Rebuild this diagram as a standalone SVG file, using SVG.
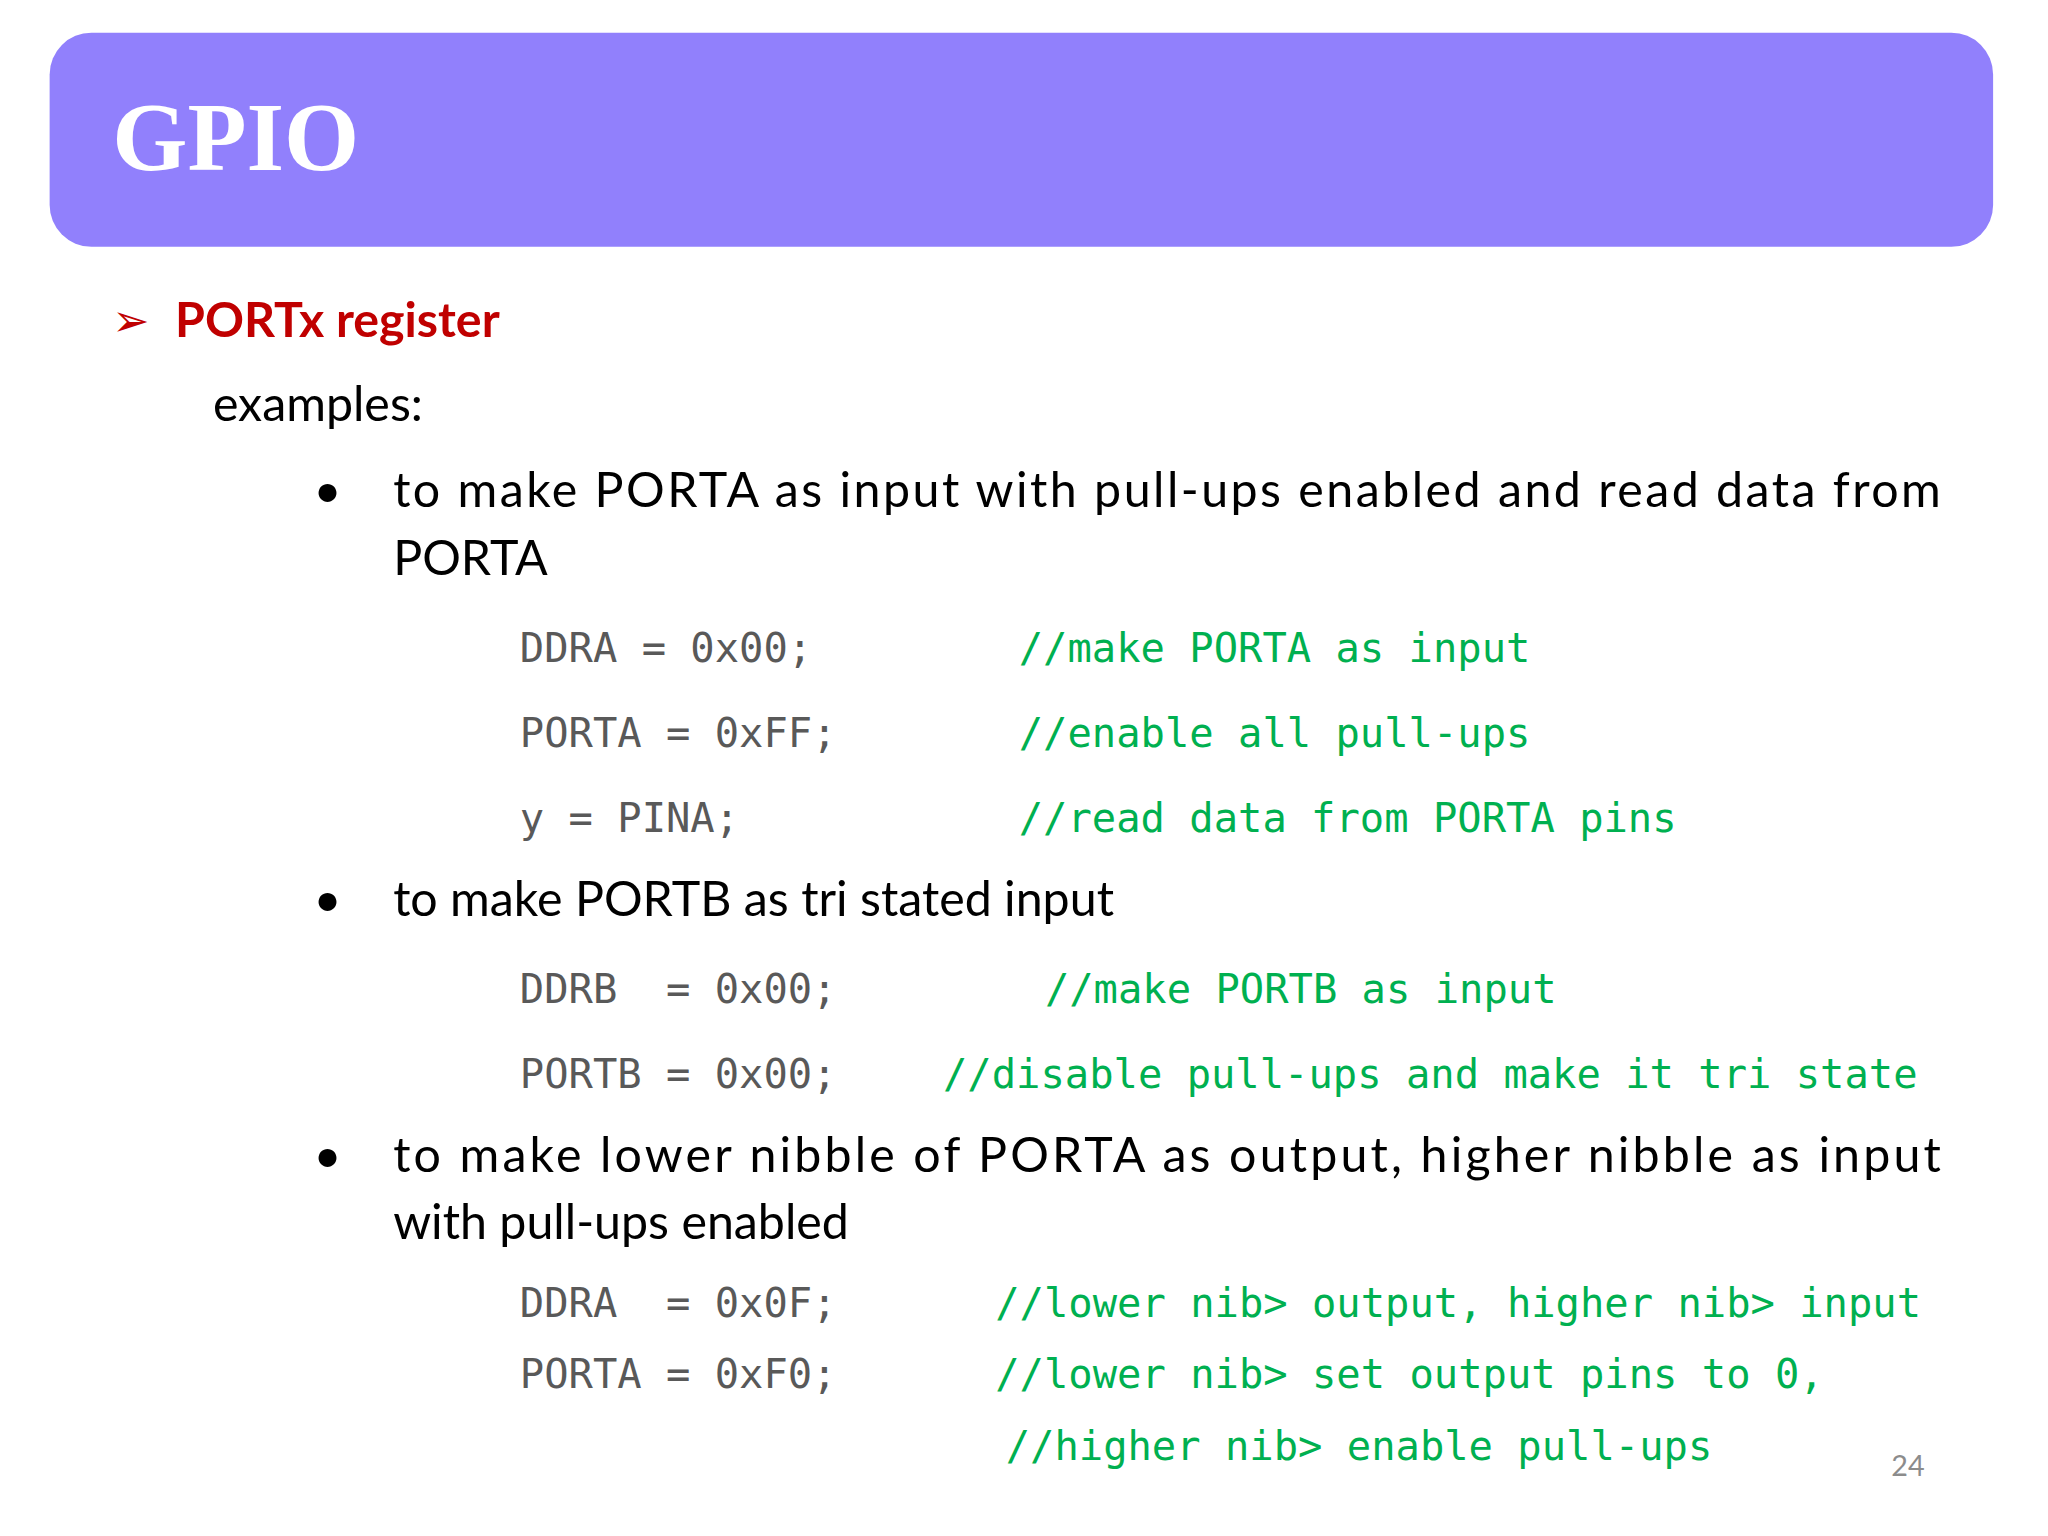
<svg xmlns="http://www.w3.org/2000/svg" width="2048" height="1536" viewBox="0 0 2048 1536">
<style>
.b{font-family:Lato,"Open Sans","Liberation Sans",sans-serif;font-size:37px;fill:#000}
.c{font-family:"DejaVu Sans Mono","Liberation Mono",monospace;font-size:31px;fill:#595959}
.g{font-family:"DejaVu Sans Mono","Liberation Mono",monospace;font-size:31px;fill:#00B050}
</style>
<rect width="2048" height="1536" fill="#fff"/>
<g transform="scale(1.3061)">
<g id="header">
<rect x="38" y="25" width="1488" height="164" rx="32" fill="#9180FC"/>
<text x="86" y="130" font-family="Liberation Serif,serif" font-weight="bold" font-size="74" fill="#fff">GPIO</text>
</g>
<g id="title">
<text x="86" y="257" font-family="DejaVu Sans,sans-serif" font-size="34" fill="#C00000">➢</text>
<text x="134" y="258" font-family="Lato,'Open Sans',sans-serif" font-weight="bold" font-size="37" fill="#C00000">PORTx register</text>
</g>
<g id="body">
<text class="b" x="163" y="322">examples:</text>
<text class="b" x="240" y="388">•</text>
<text class="b" x="301" y="388" textLength="1185">to make PORTA as input with pull-ups enabled and read data from</text>
<text class="b" x="301" y="440">PORTA</text>
<text class="c" x="398" y="507">DDRA = 0x00;</text><text class="g" x="780" y="507">//make PORTA as input</text>
<text class="c" x="398" y="572">PORTA = 0xFF;</text><text class="g" x="780" y="572">//enable all pull-ups</text>
<text class="c" x="398" y="637">y = PINA;</text><text class="g" x="780" y="637">//read data from PORTA pins</text>
<text class="b" x="240" y="701">•</text>
<text class="b" x="301" y="701">to make PORTB as tri stated input</text>
<text class="c" x="398" y="768" xml:space="preserve">DDRB  = 0x00;</text><text class="g" x="800" y="768">//make PORTB as input</text>
<text class="c" x="398" y="833">PORTB = 0x00;</text><text class="g" x="722" y="833">//disable pull-ups and make it tri state</text>
<text class="b" x="240" y="897">•</text>
<text class="b" x="301" y="897" textLength="1185">to make lower nibble of PORTA as output, higher nibble as input</text>
<text class="b" x="301" y="949">with pull-ups enabled</text>
<text class="c" x="398" y="1008" xml:space="preserve">DDRA  = 0x0F;</text><text class="g" x="762" y="1008">//lower nib&gt; output, higher nib&gt; input</text>
<text class="c" x="398" y="1063">PORTA = 0xF0;</text><text class="g" x="762" y="1063">//lower nib&gt; set output pins to 0,</text>
<text class="g" x="770" y="1118">//higher nib&gt; enable pull-ups</text>
<text x="1448" y="1130" font-family="Lato,sans-serif" font-size="22" fill="#8c8c8c">24</text>
</g>
</g>
</svg>
